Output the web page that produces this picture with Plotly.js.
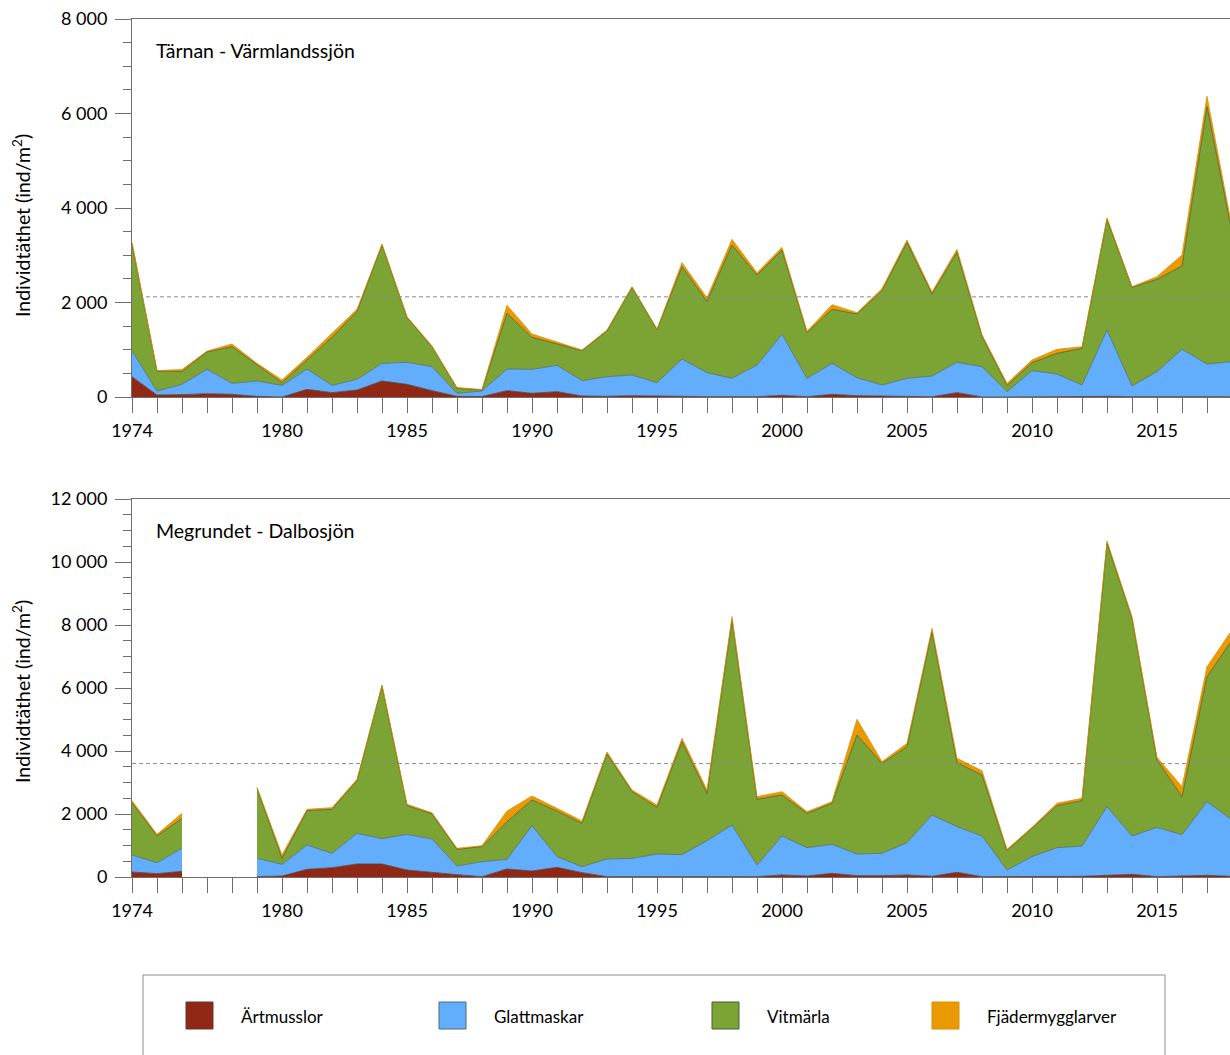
<!DOCTYPE html>
<html><head><meta charset="utf-8">
<script src="https://cdn.plot.ly/plotly-3.0.1.min.js"></script>
<style>html,body{margin:0;padding:0;overflow:hidden;background:#fff;width:1230px;height:1055px}#chart{width:1240px;height:1055px}</style>
</head><body><div id="chart"></div>
<script>
// ---------------- DATA ----------------
const years = [1974,1975,1976,1977,1978,1979,1980,1981,1982,1983,1984,1985,1986,1987,1988,1989,1990,1991,1992,1993,1994,1995,1996,1997,1998,1999,2000,2001,2002,2003,2004,2005,2006,2007,2008,2009,2010,2011,2012,2013,2014,2015,2016,2017,2018];
const xTickLabels = ["1974","","","","","","1980","","","","","1985","","","","","1990","","","","","1995","","","","","2000","","","","","2005","","","","","2010","","","","","2015","","",""];

const seriesNames = ["Ärtmusslor","Glattmaskar","Vitmärla","Fjädermygglarver"];

// Tärnan - Värmlandssjön (ind/m2)
const tarnanArtmusslor = [430,42,50,70,56,14,0,162,92,148,339,268,134,14,10,134,78,113,21,14,28,14,14,7,7,7,35,7,56,28,21,14,5,92,0,0,7,5,5,14,7,14,7,7,5];
const tarnanGlattmaskar = [543,85,220,516,233,325,247,430,155,226,373,466,508,64,117,458,508,557,325,416,438,289,790,508,388,670,1291,388,656,381,233,381,439,642,642,113,550,482,249,1404,226,522,1002,691,745];
const tarnanVitmarla = [2280,423,270,366,776,338,56,191,1016,1432,2505,952,423,106,21,1179,677,452,634,967,1855,1123,1954,1510,2822,1905,1785,967,1144,1348,1996,2879,1736,2328,643,130,169,437,776,2342,2088,1954,1763,5446,2730];
const tarnanFjadermygg = [17,10,40,21,57,35,57,57,85,50,21,14,15,15,12,169,70,35,14,21,14,14,85,75,120,49,56,28,98,28,42,49,42,63,35,45,57,85,35,30,14,57,233,220,110];
const tarnanMean = 2120;

// Megrundet - Dalbosjön (ind/m2), null = no sampling
const megrArtmusslor = [159,106,180,null,null,11,32,243,296,413,413,222,138,74,11,254,190,307,138,11,11,11,11,32,11,11,64,32,116,43,43,64,21,148,11,11,11,21,21,53,85,11,43,53,20];
const megrGlattmaskar = [539,349,730,null,null,581,370,773,455,973,804,1132,1068,275,476,307,1440,339,190,560,581,719,698,1121,1640,370,1238,899,921,687,708,1026,1947,1450,1291,211,635,910,963,2180,1217,1566,1301,2339,1790];
const megrVitmarla = [1662,847,952,null,null,2223,191,1090,1397,1672,4846,911,794,529,476,1196,814,1449,1375,3334,2117,1482,3587,1503,6508,2084,1301,1090,1302,3778,2857,3048,5821,2032,1936,614,899,1334,1439,8360,6910,2137,1206,3968,5710];
const megrFjadermygg = [63,52,159,null,null,32,105,42,53,42,32,42,42,32,32,338,127,85,75,63,53,74,106,106,106,85,106,53,53,497,53,105,105,137,137,42,32,74,74,74,53,85,318,317,320];
const megrMean = 3600;

const topTicks = [0,2000,4000,6000,8000];
const bottomTicks = [0,2000,4000,6000,8000,10000,12000];
const yTitle = "Individtäthet (ind/m<sup>2</sup>)";

// ---------------- STYLE ----------------
const fillColors = ["#912816","#62aefc","#7ca434","#e89a00"];
const lineColors = ["#5a3a30","#4f6a7a","#4d5a3a","#dc9000"];
const FONT = "Lato, 'Open Sans', 'DejaVu Sans', sans-serif";

const L = 132, R = 8, T = 19, B = 178, W = 1240, H = 1055;
const plotW = W - L - R, plotH = H - T - B;
const px = x => (x - L) / plotW;
const py = y => (H - B - y) / plotH;

function segments(arr) {
  const segs = []; let start = null;
  arr.forEach((v, i) => {
    if (v !== null && start === null) start = i;
    if ((v === null || i === arr.length - 1) && start !== null) {
      segs.push([start, v === null ? i : i + 1]); start = null;
    }
  });
  return segs;
}

function areaTraces(series, xa, ya, prefix) {
  const out = [];
  segments(series[0]).forEach(([a, b], si) => {
    series.forEach((vals, k) => {
      out.push({
        type: "scatter", mode: "lines", name: seriesNames[k],
        x: years.slice(a, b), y: vals.slice(a, b),
        stackgroup: prefix + si, fillcolor: fillColors[k],
        line: {color: lineColors[k], width: 0.8},
        xaxis: xa, yaxis: ya, showlegend: false, hoverinfo: "skip"
      });
    });
  });
  return out;
}

function meanTrace(m, xa, ya) {
  return {type: "scatter", mode: "lines", x: [years[0], years[years.length - 1]], y: [m, m],
    line: {color: "#8a8a8a", width: 1, dash: "4px,3px"}, xaxis: xa, yaxis: ya,
    showlegend: false, hoverinfo: "skip"};
}

const traces = [
  ...areaTraces([tarnanArtmusslor, tarnanGlattmaskar, tarnanVitmarla, tarnanFjadermygg], "x", "y", "top"),
  meanTrace(tarnanMean, "x", "y"),
  ...areaTraces([megrArtmusslor, megrGlattmaskar, megrVitmarla, megrFjadermygg], "x2", "y2", "bot"),
  meanTrace(megrMean, "x2", "y2")
];

const axisCol = "#6e6e6e";
function xAxis(anchor) {
  return {domain: [0, 1], range: [1974, 2018], anchor: anchor, tickmode: "array",
    tickvals: years, ticktext: xTickLabels, ticks: "outside", ticklen: 15, tickwidth: 1,
    tickcolor: axisCol, showline: true, linecolor: axisCol, linewidth: 1, mirror: true,
    showgrid: false, zeroline: false, tickfont: {size: 18, color: "#000", family: FONT},
    ticklabelstandoff: 2, fixedrange: true};
}
function yAxis(anchor, dom, maxV, ticks) {
  return {domain: dom, range: [0, maxV], anchor: anchor, tickmode: "array", tickvals: ticks,
    tickformat: ",d", ticks: "outside", ticklen: 16, tickwidth: 1, tickcolor: axisCol,
    minor: {dtick: 500, tick0: 0, ticks: "outside", ticklen: 8, tickwidth: 1, tickcolor: axisCol, showgrid: false},
    showline: true, linecolor: axisCol, linewidth: 1, mirror: true, showgrid: false, zeroline: false,
    tickfont: {size: 18, color: "#000", family: FONT}, ticklabelstandoff: 4,
    fixedrange: true};
}

const topDom = [py(397), 1];
const botDom = [0, py(499)];

const shapes = [
  {type: "rect", xref: "paper", yref: "paper", x0: px(143), x1: px(1165), y0: py(975), y1: py(1070),
   line: {color: "#8c8c8c", width: 1}, fillcolor: "rgba(0,0,0,0)"}
];
const annotations = [
  {xref: "paper", yref: "paper", x: px(154), y: py(50), xanchor: "left", yanchor: "middle", showarrow: false,
   text: "Tärnan - Värmlandssjön", font: {size: 19.5, color: "#000", family: FONT}},
  {xref: "paper", yref: "paper", x: px(154), y: py(530), xanchor: "left", yanchor: "middle", showarrow: false,
   text: "Megrundet - Dalbosjön", font: {size: 19.5, color: "#000", family: FONT}},
  {xref: "paper", yref: "paper", x: px(21), y: py(226), xanchor: "center", yanchor: "middle", showarrow: false,
   textangle: -90, text: yTitle, font: {size: 19.5, color: "#000", family: FONT}},
  {xref: "paper", yref: "paper", x: px(21), y: py(692), xanchor: "center", yanchor: "middle", showarrow: false,
   textangle: -90, text: yTitle, font: {size: 19.5, color: "#000", family: FONT}}
];
const legendX = [186, 439, 712, 932];
seriesNames.forEach((n, k) => {
  shapes.push({type: "rect", xref: "paper", yref: "paper", x0: px(legendX[k]), x1: px(legendX[k] + 27),
    y0: py(1002), y1: py(1029), fillcolor: fillColors[k], line: {color: lineColors[k], width: 1}});
  annotations.push({xref: "paper", yref: "paper", x: px(legendX[k] + 53), y: py(1016), xanchor: "left",
    yanchor: "middle", showarrow: false, text: n, font: {size: 17, color: "#000", family: FONT}});
});

const layout = {
  width: W, height: H, margin: {l: L, r: R, t: T, b: B, pad: 0},
  paper_bgcolor: "#fff", plot_bgcolor: "#fff", separators: ", ",
  font: {family: FONT, color: "#000"},
  showlegend: false,
  xaxis: xAxis("y"), yaxis: yAxis("x", topDom, 8000, topTicks),
  xaxis2: xAxis("y2"), yaxis2: yAxis("x2", botDom, 12000, bottomTicks),
  shapes: shapes, annotations: annotations
};

Plotly.newPlot("chart", traces, layout, {staticPlot: true, displayModeBar: false});
</script></body></html>
